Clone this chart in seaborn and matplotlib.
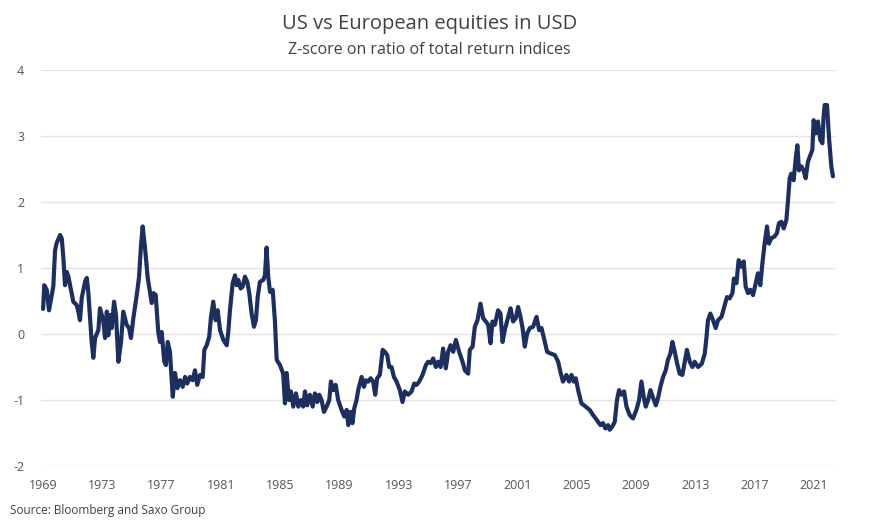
import matplotlib
matplotlib.use("Agg")
import matplotlib.pyplot as plt
import seaborn as sns
import pandas as pd

# Z-score of US vs European equities total return ratio
years = [
    1969.00, 1969.08, 1969.25, 1969.40, 1969.59, 1969.69, 1969.81, 1969.92, 1970.15, 1970.26,
    1970.37, 1970.48, 1970.60, 1970.71, 1970.82, 1971.04, 1971.27, 1971.38, 1971.49, 1971.61,
    1971.83, 1971.95, 1972.05, 1972.17, 1972.28, 1972.39, 1972.51, 1972.73, 1972.84, 1972.96,
    1973.07, 1973.18, 1973.30, 1973.40, 1973.52, 1973.63, 1973.79, 1973.92, 1974.08, 1974.26,
    1974.41, 1974.64, 1974.80, 1974.93, 1975.09, 1975.32, 1975.47, 1975.61, 1975.72, 1975.88,
    1976.06, 1976.21, 1976.33, 1976.46, 1976.60, 1976.77, 1976.89, 1977.00, 1977.18, 1977.29,
    1977.41, 1977.56, 1977.66, 1977.75, 1977.90, 1978.06, 1978.24, 1978.42, 1978.58, 1978.73,
    1978.91, 1979.09, 1979.25, 1979.40, 1979.59, 1979.77, 1979.88, 1980.04, 1980.21, 1980.33,
    1980.48, 1980.64, 1980.78, 1980.94, 1981.16, 1981.39, 1981.49, 1981.61, 1981.79, 1981.95,
    1982.06, 1982.17, 1982.33, 1982.47, 1982.62, 1982.78, 1982.91, 1983.07, 1983.23, 1983.36,
    1983.48, 1983.63, 1983.86, 1983.97, 1984.08, 1984.19, 1984.31, 1984.49, 1984.64, 1984.76,
    1984.98, 1985.20, 1985.32, 1985.43, 1985.59, 1985.72, 1985.88, 1986.06, 1986.22, 1986.40,
    1986.55, 1986.67, 1986.82, 1987.00, 1987.19, 1987.34, 1987.50, 1987.63, 1987.79, 1987.95,
    1988.13, 1988.31, 1988.42, 1988.57, 1988.74, 1988.91, 1989.14, 1989.32, 1989.48, 1989.59,
    1989.75, 1989.88, 1989.99, 1990.15, 1990.26, 1990.49, 1990.65, 1990.78, 1990.94, 1991.10,
    1991.27, 1991.41, 1991.54, 1991.72, 1991.91, 1992.06, 1992.22, 1992.35, 1992.51, 1992.67,
    1992.85, 1993.07, 1993.25, 1993.41, 1993.63, 1993.86, 1994.04, 1994.20, 1994.38, 1994.60,
    1994.83, 1994.98, 1995.16, 1995.32, 1995.50, 1995.65, 1995.82, 1995.99, 1996.17, 1996.33,
    1996.49, 1996.67, 1996.85, 1997.07, 1997.30, 1997.46, 1997.68, 1997.79, 1997.98, 1998.13,
    1998.31, 1998.51, 1998.69, 1998.87, 1999.03, 1999.19, 1999.32, 1999.48, 1999.70, 1999.86,
    2000.00, 2000.15, 2000.38, 2000.54, 2000.71, 2000.89, 2001.05, 2001.21, 2001.35, 2001.50,
    2001.66, 2001.84, 2002.06, 2002.29, 2002.47, 2002.63, 2002.85, 2003.01, 2003.19, 2003.53,
    2003.75, 2003.93, 2004.08, 2004.31, 2004.49, 2004.65, 2004.81, 2004.94, 2005.10, 2005.32,
    2005.61, 2005.88, 2006.11, 2006.29, 2006.44, 2006.61, 2006.78, 2006.94, 2007.12, 2007.23,
    2007.41, 2007.57, 2007.72, 2007.86, 2008.02, 2008.20, 2008.36, 2008.58, 2008.80, 2009.03,
    2009.21, 2009.37, 2009.52, 2009.66, 2009.82, 2009.98, 2010.16, 2010.34, 2010.49, 2010.65,
    2010.83, 2011.01, 2011.16, 2011.33, 2011.46, 2011.62, 2011.77, 2011.95, 2012.13, 2012.29,
    2012.44, 2012.63, 2012.81, 2012.96, 2013.19, 2013.44, 2013.64, 2013.75, 2013.86, 2014.02,
    2014.20, 2014.38, 2014.54, 2014.77, 2014.99, 2015.14, 2015.32, 2015.51, 2015.61, 2015.78,
    2015.93, 2016.11, 2016.27, 2016.40, 2016.56, 2016.72, 2016.90, 2017.08, 2017.23, 2017.39,
    2017.53, 2017.68, 2017.84, 2017.97, 2018.13, 2018.36, 2018.51, 2018.65, 2018.81, 2018.97,
    2019.15, 2019.26, 2019.37, 2019.48, 2019.64, 2019.78, 2019.89, 2020.00, 2020.16, 2020.31,
    2020.45, 2020.60, 2020.77, 2020.90, 2020.99, 2021.12, 2021.28, 2021.44, 2021.58, 2021.66,
    2021.73, 2021.89, 2022.02, 2022.18, 2022.29,
]
zscore = [
    0.38, 0.74, 0.67, 0.36, 0.59, 0.72, 1.27, 1.38, 1.50, 1.45,
    1.15, 0.74, 0.94, 0.87, 0.74, 0.49, 0.44, 0.34, 0.21, 0.55,
    0.79, 0.85, 0.64, 0.24, -0.12, -0.36, -0.06, 0.06, 0.39, 0.29,
    0.19, -0.06, 0.34, -0.02, 0.29, 0.09, 0.49, 0.29, -0.42, -0.12,
    0.34, 0.14, 0.09, -0.06, 0.24, 0.59, 0.85, 1.35, 1.63, 1.30,
    0.85, 0.64, 0.47, 0.62, 0.59, 0.03, -0.12, 0.03, -0.42, -0.47,
    -0.12, -0.27, -0.62, -0.95, -0.59, -0.82, -0.70, -0.80, -0.65, -0.75,
    -0.65, -0.70, -0.55, -0.77, -0.62, -0.65, -0.24, -0.17, -0.04, 0.26,
    0.49, 0.21, 0.36, 0.06, -0.09, -0.17, 0.02, 0.36, 0.77, 0.89,
    0.74, 0.82, 0.69, 0.72, 0.87, 0.79, 0.62, 0.31, 0.11, 0.21,
    0.56, 0.79, 0.82, 0.89, 1.31, 0.87, 0.64, 0.67, 0.21, -0.39,
    -0.47, -0.60, -1.05, -0.59, -1.00, -0.87, -1.10, -0.90, -1.10, -1.00,
    -1.10, -0.87, -1.08, -0.92, -1.10, -0.90, -1.03, -0.92, -1.00, -1.18,
    -1.10, -1.00, -0.72, -0.85, -0.77, -1.00, -1.15, -1.25, -1.15, -1.38,
    -1.18, -1.35, -1.13, -1.00, -0.85, -0.65, -0.80, -0.70, -0.72, -0.67,
    -0.72, -0.92, -0.67, -0.62, -0.24, -0.27, -0.32, -0.50, -0.50, -0.65,
    -0.72, -0.85, -1.03, -0.87, -0.92, -0.87, -0.75, -0.77, -0.72, -0.62,
    -0.47, -0.42, -0.44, -0.37, -0.50, -0.42, -0.50, -0.22, -0.52, -0.27,
    -0.17, -0.27, -0.09, -0.27, -0.42, -0.55, -0.60, -0.24, -0.19, 0.11,
    0.21, 0.46, 0.24, 0.19, 0.14, -0.14, 0.19, 0.14, 0.36, 0.31,
    -0.12, 0.06, 0.26, 0.39, 0.19, 0.24, 0.41, 0.26, 0.09, -0.19,
    0.01, 0.09, 0.11, 0.26, 0.06, 0.09, -0.12, -0.27, -0.29, -0.32,
    -0.42, -0.60, -0.72, -0.62, -0.72, -0.62, -0.72, -0.67, -0.85, -1.05,
    -1.10, -1.15, -1.23, -1.28, -1.33, -1.38, -1.35, -1.43, -1.38, -1.45,
    -1.40, -1.33, -1.00, -0.85, -0.92, -0.87, -1.10, -1.23, -1.28, -1.15,
    -1.00, -0.72, -0.95, -1.10, -1.00, -0.85, -0.97, -1.08, -0.97, -0.80,
    -0.65, -0.55, -0.39, -0.29, -0.12, -0.27, -0.44, -0.60, -0.62, -0.42,
    -0.24, -0.42, -0.50, -0.42, -0.50, -0.45, -0.30, -0.07, 0.21, 0.31,
    0.21, 0.09, 0.21, 0.26, 0.44, 0.56, 0.54, 0.62, 0.84, 0.77,
    1.12, 1.02, 1.10, 0.72, 0.62, 0.67, 0.59, 0.77, 0.92, 0.74,
    1.07, 1.37, 1.63, 1.37, 1.45, 1.48, 1.53, 1.68, 1.70, 1.60,
    1.73, 2.03, 2.36, 2.43, 2.33, 2.66, 2.86, 2.48, 2.54, 2.48,
    2.36, 2.61, 2.71, 2.79, 3.24, 3.04, 3.22, 2.94, 2.89, 3.29,
    3.47, 3.47, 2.99, 2.54, 2.39,
]
tick_years = [1969, 1973, 1977, 1981, 1985, 1989, 1993, 1997, 2001, 2005, 2009, 2013, 2017, 2021]
y_ticks = [-2, -1, 0, 1, 2, 3, 4]

df = pd.DataFrame({"year": years, "zscore": zscore})

sns.set_theme(style="white")
plt.rcParams['font.family'] = ['Open Sans', 'DejaVu Sans']

fig = plt.figure(figsize=(8.88, 5.27), dpi=100)
ax = fig.add_axes([0.046, 0.1157, 0.895, 0.7514])

sns.lineplot(data=df, x="year", y="zscore", ax=ax, color="#1d2f5f", linewidth=3.0)

ax.set_xlim(1968.85, 2022.47)
ax.set_ylim(-2, 4)
ax.set_xticks(tick_years)
ax.set_xticklabels([str(y) for y in tick_years])
ax.set_yticks(y_ticks)
ax.set_yticklabels([str(v) for v in y_ticks])
ax.yaxis.grid(True, color="#e3e3e3", linewidth=1.0)
ax.set_axisbelow(True)
for s in ax.spines.values():
    s.set_visible(False)
ax.tick_params(axis="both", length=0, labelsize=9, colors="#555555")
ax.tick_params(axis="y", pad=12)
ax.tick_params(axis="x", pad=9)
ax.set_xlabel("")
ax.set_ylabel("")

# Titles
fig.text(0.484, 0.955, "US vs European equities in USD", ha="center", va="center",
         fontsize=14.5, color="#404040")
fig.text(0.484, 0.906, "Z-score on ratio of total return indices", ha="center", va="center",
         fontsize=11.5, color="#404040")

# Source note
fig.text(0.011, 0.032, "Source: Bloomberg and Saxo Group", ha="left", va="center",
         fontsize=8.5, color="#404040")

fig.savefig("out.png", dpi=100)
